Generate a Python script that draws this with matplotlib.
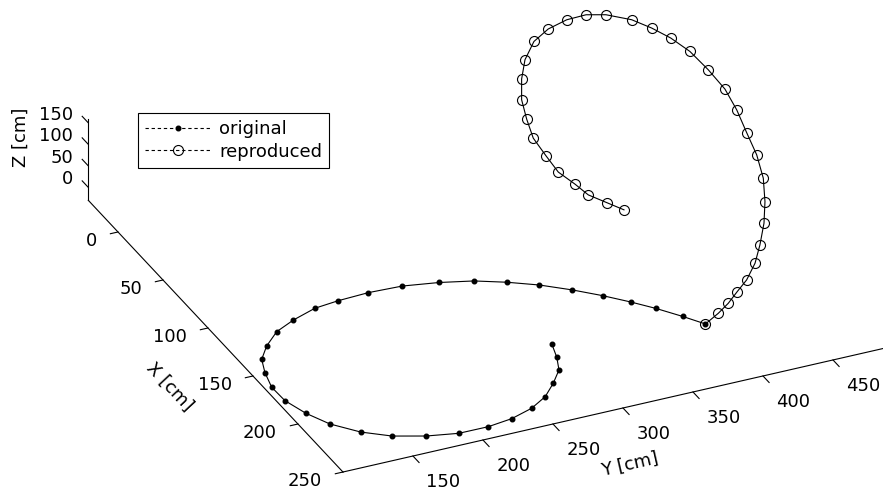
import numpy as np
import matplotlib
matplotlib.use('Agg')
import matplotlib.pyplot as plt
from matplotlib.lines import Line2D

plt.rcParams['font.family'] = ['DejaVu Sans']

# ---------------- data (cm) ----------------
orig_x = [205.2, 194.3, 182.2, 171.7, 160.7, 149.9, 139.2, 130.4, 122.9, 117.4,
          113.2, 112.2, 113.2, 115.1, 121.0, 127.7, 138.0, 148.5, 160.5, 174.4,
          188.5, 203.5, 217.3, 230.3, 239.9, 246.5, 250.6, 250.7, 248.4, 243.4,
          236.1, 226.2, 215.9, 204.6, 192.2]
orig_y = [387.7, 378.5, 367.2, 355.9, 342.8, 328.2, 311.5, 293.8, 275.3, 254.0,
          230.3, 206.7, 184.6, 166.7, 147.5, 131.3, 117.5, 107.2, 101.8, 97.7,
          98.1, 103.5, 111.7, 125.4, 141.7, 161.6, 182.3, 203.4, 221.6, 239.0,
          253.4, 265.5, 276.2, 281.9, 286.3]
orig_z = [0, 0, 0, 0, 0, 0, 0, 0, 0, 0, 0, 0, 0, 0, 0, 0, 0, 0, 0, 0,
          0, 0, 0, 0, 0, 0, 0, 0, 0, 0, 0, 0, 0, 0, 0]

rep_x = [205.2, 205.2, 205.2, 205.2, 205.2, 205.2, 205.2, 205.2, 205.2, 205.2,
         205.2, 205.2, 205.2, 205.2, 205.2, 205.2, 205.2, 205.2, 205.2, 205.2,
         205.2, 205.2, 205.2, 205.2, 205.2, 205.2, 205.2, 205.2, 205.2, 205.2,
         205.2, 205.2, 205.2, 205.2, 205.2]
rep_y = [387.7, 396.9, 404.0, 410.4, 417.1, 423.1, 426.6, 429.5, 430.2, 429.0,
         424.3, 417.1, 410.0, 401.6, 389.7, 376.6, 362.9, 349.3, 335.0, 316.6,
         302.4, 288.6, 275.4, 265.2, 258.8, 256.4, 256.4, 260.0, 264.7, 273.8,
         282.6, 294.5, 304.0, 317.1, 329.5]
rep_z = [0.0, 18.1, 36.0, 58.4, 80.5, 114.9, 154.9, 203.3, 252.8, 308.1,
         365.8, 423.0, 481.2, 535.6, 589.3, 641.6, 683.0, 716.3, 746.3, 771.6,
         782.1, 780.7, 769.1, 747.7, 710.0, 667.0, 618.8, 571.2, 523.5, 475.6,
         431.2, 394.4, 362.3, 334.7, 308.6]

x_ticks = [0, 50, 100, 150, 200, 250]
y_ticks = [150, 200, 250, 300, 350, 400, 450]
z_ticks = [0, 50, 100, 150]
x_lim = (-33, 250)
y_lim = (100, 500)
z_lim = (-30, 160)
series_labels = ['original', 'reproduced']
axis_labels = ['X [cm]', 'Y [cm]', 'Z [cm]']

# ---------------- figure ----------------
W, H = 883, 491
FS = 13
fig = plt.figure(figsize=(W / 100, H / 100), dpi=100)
ax = fig.add_subplot(projection='3d', proj_type='ortho')
ax.set_position([0.25, 0.1, 400 / W, 400 / H])
ax.view_init(elev=29.6, azim=-24.84)
ax.set_xlim(*x_lim)
ax.set_ylim(*y_lim)
ax.set_zlim(*z_lim)
ax.set_box_aspect((606, 617, 94))
ax.grid(False)

# put the z axis on the left (x = xmin, y = ymin) edge, ticks towards -x
ax.zaxis.set_ticks_position('lower')
ax.zaxis._get_tickdir = lambda *a, **k: 0

for a, fin, fout in ((ax.xaxis, 0.17, 0.0), (ax.yaxis, 0.3, 0.0),
                     (ax.zaxis, 0.0, 0.3)):
    a.set_pane_color((1, 1, 1, 0))
    a.pane.set_edgecolor((1, 1, 1, 0))
    a.line.set_color('k')
    a.line.set_linewidth(0.8)
    a._axinfo['tick']['inward_factor'] = fin
    a._axinfo['tick']['outward_factor'] = fout
    a._axinfo['tick']['linewidth'] = {True: 0.8, False: 0.5}

ax.set_xticks(x_ticks)
ax.set_yticks(y_ticks)
ax.set_zticks(z_ticks)
for a in (ax.xaxis, ax.yaxis, ax.zaxis):
    a.set_tick_params(labelbottom=False, label1On=False)

ax.plot(orig_x, orig_y, orig_z, color='k', lw=0.8, marker='o', ms=3.3)
ax.plot(rep_x, rep_y, rep_z, color='k', lw=0.8, marker='o', ms=7.2,
        mfc='none', mew=0.8)

# legend
handles = [
    Line2D([], [], color='k', lw=0.8, ls=(0, (3, 2.5)), marker='o', ms=3.3),
    Line2D([], [], color='k', lw=0.8, ls=(0, (3, 2.5)), marker='o', ms=7.2,
           mfc='none', mew=0.8),
]
leg = fig.legend(handles, series_labels, loc='upper left',
                 bbox_to_anchor=(138 / W, 1 - 113 / H),
                 bbox_transform=fig.transFigure, borderaxespad=0,
                 fancybox=False, edgecolor='k', framealpha=1, fontsize=FS,
                 handlelength=3.6, labelspacing=0.25, borderpad=0.4,
                 handletextpad=0.5)
leg.get_frame().set_linewidth(0.8)

# ---------------- fit the 3D box onto the canvas ----------------
fig.canvas.draw()


def to_disp(p):
    v = ax.M @ np.array([p[0], p[1], p[2], 1.0])
    return np.array(ax.transData.transform((v[0] / v[3], v[1] / v[3])))


P0 = to_disp((x_lim[0], y_lim[0], z_lim[0]))
P1 = to_disp((x_ticks[-1], y_ticks[-1], z_lim[0]))
T0 = np.array([88.3, H - 200.3])
T1 = np.array([833.0, H - 360.0])
k = np.linalg.norm(T1 - T0) / np.linalg.norm(P1 - P0)
bb = ax.get_position()
c = np.array([(bb.x0 + bb.x1) / 2 * W, (bb.y0 + bb.y1) / 2 * H])
s = bb.width * W
c_new = T0 - k * (P0 - c)
s_new = k * s
ax.set_position([(c_new[0] - s_new / 2) / W, (c_new[1] - s_new / 2) / H,
                 s_new / W, s_new / H])
fig.canvas.draw()


# ---------------- texts placed at projected 3D anchor points ----------------
def put(p, s, ha='center', va='center', rot=0):
    d = to_disp(p)
    fig.text(d[0] / W, d[1] / H, s, ha=ha, va=va, rotation=rot,
             fontsize=FS, rotation_mode='anchor')


def angle_of(p, q):
    d = to_disp(q) - to_disp(p)
    return np.degrees(np.arctan2(d[1], d[0]))


for t in x_ticks:
    put((t, y_lim[0] - 15, z_lim[0] - 10), str(t), ha='right')
for t in y_ticks:
    put((x_lim[1] + 15, t, z_lim[0] - 5), str(t), ha='left', va='top')
for t in z_ticks:
    put((x_lim[0] - 10, y_lim[0] - 4.4, t), str(t), ha='right')

put((143, 45, z_lim[0]), axis_labels[0],
    rot=angle_of((0, 100, 0), (100, 100, 0)))
put((300, 273, z_lim[0]), axis_labels[1],
    rot=angle_of((250, 100, 0), (250, 400, 0)))
put((x_lim[0] - 75, y_lim[0], -50), axis_labels[2], rot=90)

fig.savefig('out.png', dpi=100)
